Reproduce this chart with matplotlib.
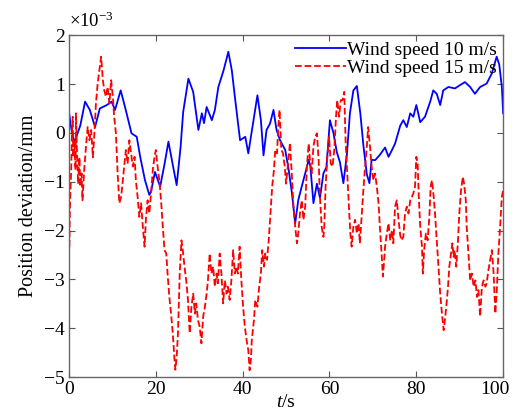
import matplotlib
matplotlib.use("Agg")
import matplotlib.pyplot as plt
import matplotlib.transforms as mtransforms

plt.rcParams['font.family'] = ['Liberation Serif', 'DejaVu Serif']
plt.rcParams['mathtext.fontset'] = 'custom'
plt.rcParams['mathtext.rm'] = 'Liberation Serif'
plt.rcParams['mathtext.it'] = 'Liberation Serif:italic'

# wind speed 10 m/s (units of 1e-3 mm)
t_10 = [0, 0.5, 1.2, 1.8, 2.6, 3.7, 4.8, 6.0, 7.1, 8.7, 9.8, 10.6, 11.9, 12.9,
        14.4, 15.6, 16.4, 17.5, 18.5, 18.9, 19.8, 21.0, 22.1, 22.9, 24.0, 24.8,
        25.7, 26.3, 27.5, 28.6, 29.8, 30.6, 31.1, 31.7, 32.9, 33.6, 34.4, 35.6,
        36.7, 37.5, 38.2, 39.4, 40.6, 41.3, 42.5, 43.4, 44.2, 44.8, 45.5, 46.3,
        47.1, 47.8, 48.6, 49.8, 50.5, 51.3, 52.1, 52.8, 53.6, 54.4, 55.2, 55.6,
        56.3, 57.1, 57.8, 58.6, 59.3, 60.1, 60.9, 61.7, 62.4, 63.2, 64.0, 64.7,
        65.5, 66.3, 67.1, 67.8, 68.6, 69.2, 69.7, 70.5, 71.6, 72.8, 73.6, 74.4,
        75.1, 76.3, 77.0, 77.8, 78.6, 79.3, 80.0, 80.9, 82.0, 83.2, 83.9, 84.7,
        85.5, 86.2, 87.4, 88.9, 90.1, 91.2, 92.4, 93.5, 94.7, 96.2, 97.4, 98.5,
        99.1, 99.7, 100]
v_10 = [0.42, 0.1, -0.2, -0.05, 0.15, 0.64, 0.47, 0.12, 0.5, 0.57, 0.64, 0.47,
        0.87, 0.53, -0.01, -0.08, -0.49, -0.97, -1.27, -1.2, -0.8, -1.1, -0.59,
        -0.18, -0.7, -1.07, -0.29, 0.43, 1.11, 0.84, 0.06, 0.4, 0.2, 0.53, 0.26,
        0.47, 0.94, 1.28, 1.66, 1.28, 0.74, -0.15, -0.08, -0.42, 0.26, 0.77,
        0.26, -0.46, 0.06, 0.19, 0.47, 0.06, -0.15, -0.35, -0.7, -1.2, -1.85,
        -1.38, -1.1, -0.83, -0.55, -0.69, -1.44, -1.04, -1.33, -0.83, -0.7, 0.26,
        0.0, -0.4, -0.6, -1.03, -0.45, 0.4, 0.87, 0.96, 0.4, -0.25, -0.85, -1.03,
        -0.55, -0.56, -0.45, -0.3, -0.49, -0.35, -0.22, 0.15, 0.26, 0.12, 0.4,
        0.33, 0.57, 0.22, 0.33, 0.64, 0.87, 0.8, 0.57, 0.87, 0.94, 0.91, 0.98,
        1.04, 0.94, 0.8, 0.94, 1.01, 1.22, 1.56, 1.4, 0.94, 0.4]

# wind speed 15 m/s
t_15 = [0.08, 0.2, 0.5, 0.7, 0.85, 1.0, 1.2, 1.5, 1.6, 1.8, 2.1, 2.4, 2.6, 2.9,
        3.1, 3.5, 3.9, 4.3, 4.7, 5.1, 5.5, 5.8, 6.2, 6.6, 7.0, 7.4, 7.8, 8.1,
        8.5, 8.9, 9.3, 9.7, 10.1, 10.4, 10.8, 11.2, 11.6, 12.0, 12.4, 12.7,
        13.1, 13.5, 13.9, 14.3, 14.7, 15.1, 15.4, 15.8, 16.2, 16.6, 17.0, 17.4,
        17.7, 18.1, 18.5, 18.9, 19.3, 19.7, 20.0, 20.4, 20.8, 21.2, 21.6, 22.0,
        22.4, 22.7, 23.1, 23.5, 23.9, 24.3, 24.5, 24.8, 25.1, 25.5, 25.9, 26.3,
        26.6, 27.0, 27.4, 27.8, 28.2, 28.6, 29.0, 29.3, 29.7, 30.1, 30.5, 30.9,
        31.3, 31.7, 32.0, 32.4, 32.8, 33.2, 33.6, 34.0, 34.3, 34.7, 35.1, 35.5,
        35.9, 36.3, 36.6, 37.0, 37.4, 37.8, 38.2, 38.5, 38.9, 39.3, 39.7, 40.1,
        40.5, 40.9, 41.3, 41.6, 41.9, 42.1, 42.6, 42.9, 43.4, 43.8, 44.2, 44.5,
        44.9, 45.2, 45.6, 46.0, 46.4, 46.8, 47.2, 47.5, 47.9, 48.2, 48.5, 48.9,
        49.3, 49.7, 50.0, 50.5, 50.9, 51.3, 51.7, 52.1, 52.5, 52.8, 53.2, 53.6,
        54.0, 54.4, 54.8, 55.2, 55.5, 55.9, 56.3, 56.7, 57.1, 57.5, 57.8, 58.2,
        58.6, 58.8, 59.1, 59.5, 59.9, 60.3, 60.7, 61.1, 61.5, 61.8, 62.2, 62.6,
        63.0, 63.4, 63.7, 64.0, 64.4, 64.8, 65.1, 65.5, 65.9, 66.3, 66.7, 67.0,
        67.4, 67.8, 68.2, 68.6, 68.9, 69.4, 69.7, 70.1, 70.5, 70.9, 71.3, 71.6,
        72.0, 72.3, 72.6, 72.8, 73.2, 73.6, 74.0, 74.4, 74.7, 75.1, 75.5, 75.9,
        76.3, 76.6, 77.0, 77.4, 77.8, 78.2, 78.6, 79.0, 79.3, 79.7, 80.0, 80.3,
        80.6, 80.9, 81.3, 81.5, 81.8, 82.2, 82.6, 83.0, 83.3, 83.6, 84.0, 84.3,
        84.7, 85.1, 85.5, 85.9, 86.3, 86.5, 86.9, 87.3, 87.6, 88.0, 88.3, 88.6,
        88.8, 89.2, 89.6, 89.9, 90.3, 90.7, 91.0, 91.4, 91.6, 92.0, 92.4, 92.8,
        93.2, 93.6, 94.0, 94.3, 94.7, 95.1, 95.5, 95.9, 96.2, 96.6, 97.0, 97.4,
        97.8, 98.2, 98.5, 98.9, 99.3, 99.7, 100]
v_15 = [-2.33, -1.58, -0.76, 0.06, 0.33, -0.5, -0.15, -0.76, 0.4, -0.29, -1.04,
        -0.5, -1.1, -0.83, -1.38, -0.76, -0.29, 0.12, -0.15, 0.06, -0.5, -0.08,
        0.6, 1.01, 1.29, 1.56, 1.08, 0.88, 0.74, 0.94, 0.6, 1.08, 0.74, 0.33,
        -0.01, -0.83, -1.44, -1.31, -0.97, -0.69, -0.35, -0.63, -0.15, -0.42,
        -0.69, -0.49, -0.97, -1.31, -1.72, -1.44, -1.92, -2.33, -1.78, -1.38,
        -1.65, -1.24, -0.76, -0.49, -0.35, -0.69, -0.97, -1.38, -1.92, -2.4,
        -2.47, -2.88, -3.35, -3.7, -4.1, -4.65, -4.85, -4.58, -4.1, -2.88, -2.2,
        -2.47, -2.74, -3.02, -3.42, -4.1, -3.56, -3.29, -3.7, -3.49, -3.83,
        -3.97, -4.31, -3.76, -3.56, -3.29, -3.02, -2.47, -2.88, -2.74, -3.15,
        -2.88, -3.08, -2.47, -2.88, -3.49, -3.02, -3.29, -3.15, -3.42, -3.02,
        -2.4, -2.88, -2.74, -2.88, -2.33, -3.02, -3.56, -3.97, -4.24, -4.45,
        -4.86, -4.65, -4.24, -3.83, -3.42, -3.56, -3.15, -2.88, -2.4, -2.74,
        -2.47, -2.6, -2.2, -1.65, -1.1, -0.76, -0.35, -0.42, 0.12, 0.47, -0.35,
        -0.42, -0.69, -1.04, -0.56, -0.2, -0.83, -1.51, -1.92, -2.26, -2.06,
        -1.65, -1.38, -1.78, -1.51, -0.69, -0.22, -0.56, -0.83, -0.28, -0.08,
        -0.01, -0.56, -1.31, -1.92, -2.13, -1.92, -1.1, -0.49, -0.08, -0.63,
        -0.69, -0.35, 0.33, 0.67, 0.33, 0.67, 0.67, 0.84, -0.15, -0.69, -1.38,
        -2.06, -2.33, -1.92, -1.78, -2.06, -1.85, -2.26, -1.72, -1.17, -0.69,
        -0.28, 0.12, -0.35, -0.69, -0.97, -0.83, -1.1, -1.44, -1.92, -2.47,
        -2.94, -2.6, -2.33, -2.06, -1.85, -2.2, -1.99, -2.26, -1.51, -1.38,
        -1.78, -2.1, -2.2, -2.13, -1.65, -1.51, -1.65, -1.38, -1.31, -1.24,
        -1.1, -0.49, -0.63, -1.38, -1.92, -2.33, -2.88, -2.4, -2.06, -2.2,
        -1.72, -1.1, -0.97, -1.31, -1.65, -2.2, -2.74, -3.29, -3.7, -4.04,
        -3.9, -3.56, -3.15, -2.74, -2.47, -2.26, -2.54, -2.4, -2.74, -2.2,
        -1.65, -1.17, -0.9, -1.04, -1.38, -1.92, -2.47, -3.02, -2.88, -3.15,
        -3.02, -3.36, -3.22, -3.76, -3.15, -3.02, -3.15, -3.08, -2.81, -2.6,
        -2.4, -2.88, -3.7, -3.29, -2.47, -1.92, -1.31, -1.17]

xticks = [0, 20, 40, 60, 80, 100]
yticks = [-5, -4, -3, -2, -1, 0, 1, 2]

fig = plt.figure(figsize=(5.15, 4.19), dpi=100)
ax = fig.add_axes([0.134, 0.100, 0.843, 0.816])

ax.plot(t_10, v_10, color='#0000ff', lw=1.3, label='Wind speed 10 m/s')
ax.plot(t_15, v_15, color='#ff0000', lw=1.3, ls='--', label='Wind speed 15 m/s')

ax.set_xlim(0, 100)
ax.set_ylim(-5, 2)
ax.set_xticks(xticks)
ax.set_yticks(yticks)
ax.tick_params(direction='in', top=True, right=True, labelsize=14,
               length=4, color='#555555', pad=3)
for s in ax.spines.values():
    s.set_color('#666666')
    s.set_linewidth(1.0)

# nudge the "100" label left so it stays inside the figure
last = ax.get_xticklabels()[-1]
last.set_transform(last.get_transform() +
                   mtransforms.ScaledTranslation(-6 / 72, 0, fig.dpi_scale_trans))

ax.set_xlabel('$\\mathit{t}$/s', fontsize=14, labelpad=-3)
ax.set_ylabel('Position deviation/mm', fontsize=14.5, labelpad=4)
ax.text(0.0, 1.012, '$\\times$10$^{-3}$', transform=ax.transAxes,
        fontsize=13.5, ha='left', va='bottom')

ax.legend(loc='upper right', frameon=False, fontsize=14, handlelength=2.6,
          handletextpad=0.1, labelspacing=0.05, borderaxespad=0.1,
          borderpad=0.2)

fig.savefig('out.png', dpi=100)
